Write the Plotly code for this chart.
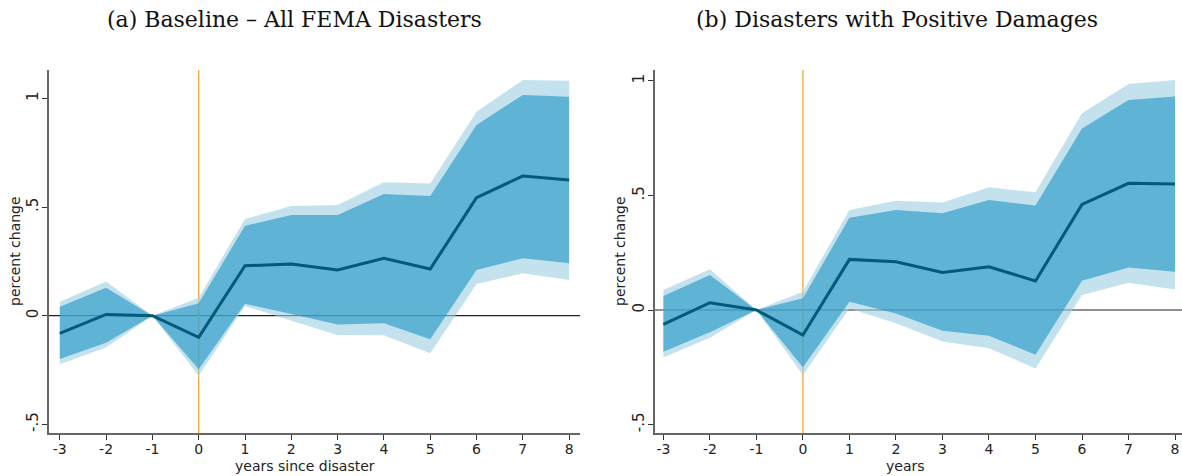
import plotly.graph_objects as go

years = [-3, -2, -1, 0, 1, 2, 3, 4, 5, 6, 7, 8]

# Panel (a): Baseline - All FEMA Disasters
a_est = [-0.081, 0.006, 0.0, -0.100, 0.230, 0.238, 0.210, 0.264, 0.215, 0.543, 0.643, 0.625]
a_in_hi = [0.041, 0.129, 0.0, 0.057, 0.414, 0.463, 0.463, 0.560, 0.551, 0.878, 1.016, 1.008]
a_in_lo = [-0.199, -0.124, 0.0, -0.247, 0.055, 0.008, -0.040, -0.035, -0.109, 0.210, 0.264, 0.241]
a_out_hi = [0.064, 0.157, 0.0, 0.083, 0.445, 0.505, 0.509, 0.614, 0.609, 0.939, 1.085, 1.082]
a_out_lo = [-0.224, -0.146, 0.0, -0.277, 0.045, -0.023, -0.089, -0.090, -0.173, 0.146, 0.195, 0.164]

# Panel (b): Disasters with Positive Damages
b_est = [-0.063, 0.032, 0.0, -0.109, 0.221, 0.211, 0.164, 0.189, 0.127, 0.461, 0.553, 0.550]
b_in_hi = [0.061, 0.153, 0.0, 0.051, 0.403, 0.437, 0.422, 0.480, 0.456, 0.793, 0.917, 0.932]
b_in_lo = [-0.182, -0.097, 0.0, -0.250, 0.036, -0.015, -0.090, -0.112, -0.195, 0.128, 0.186, 0.167]
b_out_hi = [0.087, 0.178, 0.0, 0.080, 0.437, 0.477, 0.469, 0.536, 0.514, 0.859, 0.987, 1.004]
b_out_lo = [-0.207, -0.121, 0.0, -0.284, 0.007, -0.058, -0.138, -0.167, -0.255, 0.066, 0.119, 0.090]

titles = ["(a) Baseline \u2013 All FEMA Disasters", "(b) Disasters with Positive Damages"]
xtitles = ["years since disaster", "years"]
ytick_vals = [-0.5, 0, 0.5, 1]
ytick_text = ["-.5", "0", ".5", "1"]

OUTER = "rgba(157,207,225,0.6)"
INNER = "rgba(28,149,195,0.6)"
LINE = "#005a7a"
ORANGE = "#f0a030"
AXIS = "#666666"

W, H = 1182, 476
fig = go.Figure()

panels = [
    dict(est=a_est, ih=a_in_hi, il=a_in_lo, oh=a_out_hi, ol=a_out_lo,
         xd=[49 / W, 580 / W], xr=[-3.233, 8.235], yr=[-0.540, 1.131]),
    dict(est=b_est, ih=b_in_hi, il=b_in_lo, oh=b_out_hi, ol=b_out_lo,
         xd=[655 / W, 1.0], xr=[-3.18, 8.15], yr=[-0.537, 1.048]),
]
ydom = [(H - 433) / H, (H - 70) / H]

for i, p in enumerate(panels):
    xa = "x" if i == 0 else "x2"
    ya = "y" if i == 0 else "y2"
    fig.add_trace(go.Scatter(x=years + years[::-1], y=p["oh"] + p["ol"][::-1],
                             fill="toself", fillcolor=OUTER, mode="lines",
                             line=dict(width=0), hoverinfo="skip", showlegend=False,
                             xaxis=xa, yaxis=ya))
    fig.add_trace(go.Scatter(x=years + years[::-1], y=p["ih"] + p["il"][::-1],
                             fill="toself", fillcolor=INNER, mode="lines",
                             line=dict(width=0), hoverinfo="skip", showlegend=False,
                             xaxis=xa, yaxis=ya))
    fig.add_trace(go.Scatter(x=years, y=p["est"], mode="lines",
                             line=dict(color=LINE, width=3), showlegend=False,
                             xaxis=xa, yaxis=ya))
    # reference lines under the bands
    fig.add_shape(type="line", xref=xa + " domain", yref=ya, x0=0, x1=1, y0=0, y1=0,
                  line=dict(color="#222222", width=1.2), layer="below")
    fig.add_shape(type="line", xref=xa, yref=ya + " domain", x0=0, x1=0, y0=0, y1=1,
                  line=dict(color=ORANGE, width=1.2), layer="below")

    axkw = dict(showline=True, linecolor=AXIS, linewidth=1.5, ticks="outside",
                ticklen=5, tickcolor="#333333", tickwidth=1, showgrid=False,
                zeroline=False)
    xkey = "xaxis" if i == 0 else "xaxis2"
    ykey = "yaxis" if i == 0 else "yaxis2"
    fig.layout[xkey] = dict(domain=p["xd"], range=p["xr"], anchor=ya,
                            tickvals=years, ticktext=[str(v) for v in years],
                            ticklabelstandoff=-3,
                            tickfont=dict(family="DejaVu Sans", size=14, color="#222222"), **axkw)
    fig.layout[ykey] = dict(domain=ydom, range=p["yr"], anchor=xa,
                            tickvals=ytick_vals, ticktext=ytick_text, tickangle=-90,
                            ticklabelstandoff=-2,
                            tickfont=dict(family="DejaVu Sans", size=15, color="#222222"), **axkw)

    fig.add_annotation(text=titles[i], xref="paper", yref="paper",
                       x=[294 / W, 897 / W][i], y=(H - 20) / H, showarrow=False,
                       font=dict(family="DejaVu Serif", size=22, color="#111111"),
                       xanchor="center", yanchor="middle")
    fig.add_annotation(text=xtitles[i], xref="paper", yref="paper",
                       x=[305 / W, 905 / W][i], y=(H - 466) / H, showarrow=False,
                       font=dict(family="DejaVu Sans", size=14, color="#222222"),
                       xanchor="center", yanchor="middle")
    fig.add_annotation(text="percent change", xref="paper", yref="paper",
                       x=[15 / W, 620 / W][i], y=(H - 251) / H, showarrow=False, textangle=-90,
                       font=dict(family="DejaVu Sans", size=14, color="#222222"),
                       xanchor="center", yanchor="middle")

fig.update_layout(width=W, height=H, margin=dict(l=0, r=0, t=0, b=0),
                  plot_bgcolor="white", paper_bgcolor="white", showlegend=False)
fig.write_html("out.html", config={"displayModeBar": False},
               post_script="document.body.style.margin='0';")
